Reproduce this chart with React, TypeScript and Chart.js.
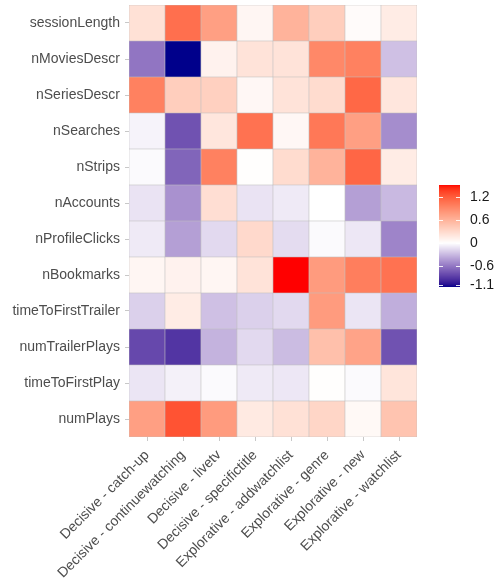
import React, { useEffect, useRef } from "react";
import { Chart, registerables } from "chart.js";

Chart.register(...registerables);

const rowLabels = [
  "sessionLength",
  "nMoviesDescr",
  "nSeriesDescr",
  "nSearches",
  "nStrips",
  "nAccounts",
  "nProfileClicks",
  "nBookmarks",
  "timeToFirstTrailer",
  "numTrailerPlays",
  "timeToFirstPlay",
  "numPlays",
];

const columnLabels = [
  "Decisive - catch-up",
  "Decisive - continuewatching",
  "Decisive - livetv",
  "Decisive - specifictitle",
  "Explorative - addwatchlist",
  "Explorative - genre",
  "Explorative - new",
  "Explorative - watchlist",
];

const sessionLength = [0.24, 1.09, 0.75, 0.07, 0.6, 0.39, 0.03, 0.15];
const nMoviesDescr = [-0.61, -1.15, 0.1, 0.22, 0.22, 0.92, 0.97, -0.27];
const nSeriesDescr = [0.97, 0.39, 0.37, 0.06, 0.22, 0.28, 1.14, 0.2];
const nSearches = [-0.05, -0.78, 0.2, 1.07, 0.06, 1.03, 0.75, -0.5];
const nStrips = [-0.02, -0.69, 0.97, 0.01, 0.28, 0.6, 1.15, 0.15];
const nAccounts = [-0.12, -0.48, 0.26, -0.12, -0.09, 0.0, -0.42, -0.3];
const nProfileClicks = [-0.09, -0.42, -0.16, 0.3, -0.15, -0.02, -0.1, -0.54];
const nBookmarks = [0.07, 0.1, 0.07, 0.22, 1.52, 0.78, 0.99, 1.07];
const timeToFirstTrailer = [-0.2, 0.15, -0.27, -0.2, -0.16, 0.78, -0.11, -0.35];
const numTrailerPlays = [-0.83, -0.92, -0.33, -0.16, -0.29, 0.5, 0.72, -0.78];
const timeToFirstPlay = [-0.11, -0.06, -0.02, -0.09, -0.1, 0.01, -0.02, 0.21];
const numPlays = [0.75, 1.26, 0.78, 0.17, 0.24, 0.33, 0.05, 0.47];

const rowValues = [
  sessionLength,
  nMoviesDescr,
  nSeriesDescr,
  nSearches,
  nStrips,
  nAccounts,
  nProfileClicks,
  nBookmarks,
  timeToFirstTrailer,
  numTrailerPlays,
  timeToFirstPlay,
  numPlays,
];

const legendBreaks = [1.2, 0.6, 0, -0.6, -1.1];

// ---- colour helpers (Lab interpolation, like ggplot's gradient2) ----
type Lab = [number, number, number];
function srgbToLinear(c: number) {
  c /= 255;
  return c <= 0.04045 ? c / 12.92 : Math.pow((c + 0.055) / 1.055, 2.4);
}
function linearToSrgb(c: number) {
  const v = c <= 0.0031308 ? 12.92 * c : 1.055 * Math.pow(c, 1 / 2.4) - 0.055;
  return Math.max(0, Math.min(255, Math.round(v * 255)));
}
const Xn = 0.95047, Yn = 1.0, Zn = 1.08883;
function rgbToLab(r: number, g: number, b: number): Lab {
  const R = srgbToLinear(r), G = srgbToLinear(g), B = srgbToLinear(b);
  const X = (0.4124 * R + 0.3576 * G + 0.1805 * B) / Xn;
  const Y = (0.2126 * R + 0.7152 * G + 0.0722 * B) / Yn;
  const Z = (0.0193 * R + 0.1192 * G + 0.9505 * B) / Zn;
  const f = (t: number) => (t > 0.008856 ? Math.cbrt(t) : 7.787 * t + 16 / 116);
  const fx = f(X), fy = f(Y), fz = f(Z);
  return [116 * fy - 16, 500 * (fx - fy), 200 * (fy - fz)];
}
function labToRgb(L: number, a: number, b: number): string {
  const fy = (L + 16) / 116;
  const fx = fy + a / 500;
  const fz = fy - b / 200;
  const inv = (t: number) => (t * t * t > 0.008856 ? t * t * t : (t - 16 / 116) / 7.787);
  const X = inv(fx) * Xn, Y = inv(fy) * Yn, Z = inv(fz) * Zn;
  const R = 3.2406 * X - 1.5372 * Y - 0.4986 * Z;
  const G = -0.9689 * X + 1.8758 * Y + 0.0415 * Z;
  const B = 0.0557 * X - 0.204 * Y + 1.057 * Z;
  return `rgb(${linearToSrgb(R)},${linearToSrgb(G)},${linearToSrgb(B)})`;
}
const LAB_WHITE = rgbToLab(255, 255, 255);
const LAB_RED = rgbToLab(255, 0, 0);
const LAB_BLUE = rgbToLab(0, 0, 139);

const allValues = rowValues.flat();
const vMax = Math.max(...allValues);
const vMin = Math.min(...allValues);

function colorFor(v: number): string {
  let t: number, end: Lab;
  if (v >= 0) {
    t = Math.min(1, v / vMax);
    end = LAB_RED;
  } else {
    t = Math.min(1, v / vMin);
    end = LAB_BLUE;
  }
  return labToRgb(
    LAB_WHITE[0] + (end[0] - LAB_WHITE[0]) * t,
    LAB_WHITE[1] + (end[1] - LAB_WHITE[1]) * t,
    LAB_WHITE[2] + (end[2] - LAB_WHITE[2]) * t
  );
}

const FONT = "'Liberation Sans', Arial, sans-serif";

const colorbarPlugin = {
  id: "colorbar",
  afterDraw(chart: any) {
    const { ctx, chartArea } = chart;
    const x0 = chartArea.right + 22;
    const w = 21;
    const top = chartArea.top + 180;
    const h = 102;
    const valAt = (y: number) => vMax - ((y - top) / h) * (vMax - vMin);
    const yOf = (v: number) => top + ((vMax - v) / (vMax - vMin)) * h;
    ctx.save();
    for (let i = 0; i < h; i++) {
      ctx.fillStyle = colorFor(valAt(top + i + 0.5));
      ctx.fillRect(x0, top + i, w, 1);
    }
    ctx.strokeStyle = "rgba(255,255,255,0.9)";
    ctx.lineWidth = 1;
    ctx.font = `14px ${FONT}`;
    ctx.fillStyle = "#1a1a1a";
    ctx.textBaseline = "middle";
    ctx.textAlign = "left";
    for (const b of legendBreaks) {
      const y = Math.round(yOf(b)) + 0.5;
      ctx.beginPath();
      ctx.moveTo(x0, y);
      ctx.lineTo(x0 + 4, y);
      ctx.moveTo(x0 + w - 4, y);
      ctx.lineTo(x0 + w, y);
      ctx.stroke();
      ctx.fillText(String(b), x0 + w + 10, y);
    }
    ctx.restore();
  },
};

export default function App() {
  const canvasRef = useRef<HTMLCanvasElement | null>(null);

  useEffect(() => {
    if (!canvasRef.current) return;
    const n = rowLabels.length;
    const datasets = [];
    for (let i = n - 1; i >= 0; i--) {
      datasets.push({
        label: rowLabels[i],
        data: columnLabels.map(() => 1),
        backgroundColor: rowValues[i].map(colorFor),
        borderColor: "#bebebe",
        borderWidth: 0.6,
        borderSkipped: false,
        barPercentage: 1,
        categoryPercentage: 1,
        stack: "tiles",
      });
    }
    const chart = new Chart(canvasRef.current, {
      type: "bar",
      data: { labels: columnLabels, datasets },
      options: {
        animation: false,
        responsive: false,
        devicePixelRatio: 1,
        layout: { padding: { left: 0, right: 82, top: 5, bottom: 0 } },
        plugins: {
          legend: { display: false },
          tooltip: { enabled: false },
        },
        scales: {
          x: {
            stacked: true,
            grid: {
              offset: false,
              drawOnChartArea: false,
              drawTicks: true,
              tickLength: 4,
              color: "#c8c8c8",
            },
            border: { display: false },
            ticks: {
              minRotation: 45,
              maxRotation: 45,
              autoSkip: false,
              padding: 6,
              color: "#4d4d4d",
              font: { family: FONT, size: 14 },
            },
            afterFit: (scale: any) => {
              scale.height = 141;
              scale.paddingLeft = 0;
              scale.paddingRight = 0;
            },
          },
          y: {
            type: "linear",
            stacked: true,
            min: 0,
            max: n,
            grid: {
              drawOnChartArea: false,
              drawTicks: true,
              tickLength: 4,
              color: "#c8c8c8",
            },
            border: { display: false },
            afterBuildTicks: (scale: any) => {
              scale.ticks = rowLabels.map((_, i) => ({ value: i + 0.5 }));
            },
            ticks: {
              autoSkip: false,
              padding: 5,
              color: "#4d4d4d",
              font: { family: FONT, size: 14 },
              callback: (value: any) => rowLabels[n - 1 - Math.floor(Number(value))],
            },
            afterFit: (scale: any) => {
              scale.width = 129;
              scale.paddingTop = 0;
              scale.paddingBottom = 0;
            },
          },
        },
      },
      plugins: [colorbarPlugin],
    });
    return () => chart.destroy();
  }, []);

  return (
    <div style={{ position: "absolute", left: 0, top: 0, width: 499, height: 578, background: "#fff" }}>
      <canvas ref={canvasRef} width={499} height={578} style={{ width: 499, height: 578 }} />
    </div>
  );
}
